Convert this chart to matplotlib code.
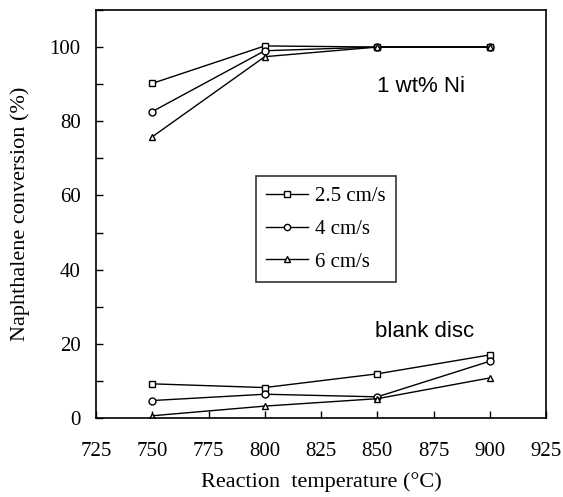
import numpy as np
import matplotlib.pyplot as plt

temps = [750, 800, 850, 900]

# 1 wt% Ni disc
ni_25 = [90.2, 100.3, 100, 100]
ni_4 = [82.6, 99.0, 100, 100]
ni_6 = [75.8, 97.4, 100, 100]

# blank disc
blank_25 = [9.2, 8.2, 11.9, 17.0]
blank_4 = [4.7, 6.4, 5.7, 15.3]
blank_6 = [0.6, 3.2, 5.2, 10.8]

labels = ['2.5 cm/s', '4 cm/s', '6 cm/s']
markers = ['s', 'o', '^']

plt.rcParams['font.family'] = 'Liberation Serif'

fig = plt.figure(figsize=(5.63, 4.97), dpi=100)
ax = fig.add_axes([0.1705, 0.159, 0.7995, 0.821])

for ni, bl, lab, m in zip([ni_25, ni_4, ni_6], [blank_25, blank_4, blank_6], labels, markers):
    ax.plot(temps, ni, color='black', lw=1, marker=m, ms=5, mfc='white', mec='black', mew=1, label=lab)
    ax.plot(temps, bl, color='black', lw=1, marker=m, ms=5, mfc='white', mec='black', mew=1)

ax.set_xlim(725, 925)
ax.set_ylim(0, 110)
ax.set_xticks(np.arange(725, 926, 25))
ax.set_yticks(np.arange(0, 101, 20))
ax.set_yticks(np.arange(0, 111, 10), minor=True)
ax.tick_params(direction='in', labelsize=15, length=5, width=1)
ax.tick_params(which='minor', direction='in', length=5, width=1)
ax.tick_params(axis='x', pad=17)
ax.tick_params(axis='y', pad=11)
for s in ax.spines.values():
    s.set_linewidth(1.2)

ax.set_xlabel('Reaction  temperature (°C)', fontsize=16, labelpad=8)
ax.set_ylabel('Naphthalene conversion (%)', fontsize=16, labelpad=14)

ax.text(850, 88, '1 wt% Ni', family='Liberation Sans', fontsize=16, va='baseline')
ax.text(849, 21.8, 'blank disc', family='Liberation Sans', fontsize=16, va='baseline')

leg = ax.legend(loc='lower left', bbox_to_anchor=(256 / 563, 215 / 497),
                bbox_transform=fig.transFigure, borderaxespad=0,
                fontsize=15, frameon=True, fancybox=False, edgecolor='black',
                handlelength=2.0, borderpad=0.5, labelspacing=0.63, handletextpad=0.35,
                markerscale=0.9)
leg.get_frame().set_linewidth(1.2)

plt.savefig('out.png', dpi=100)
